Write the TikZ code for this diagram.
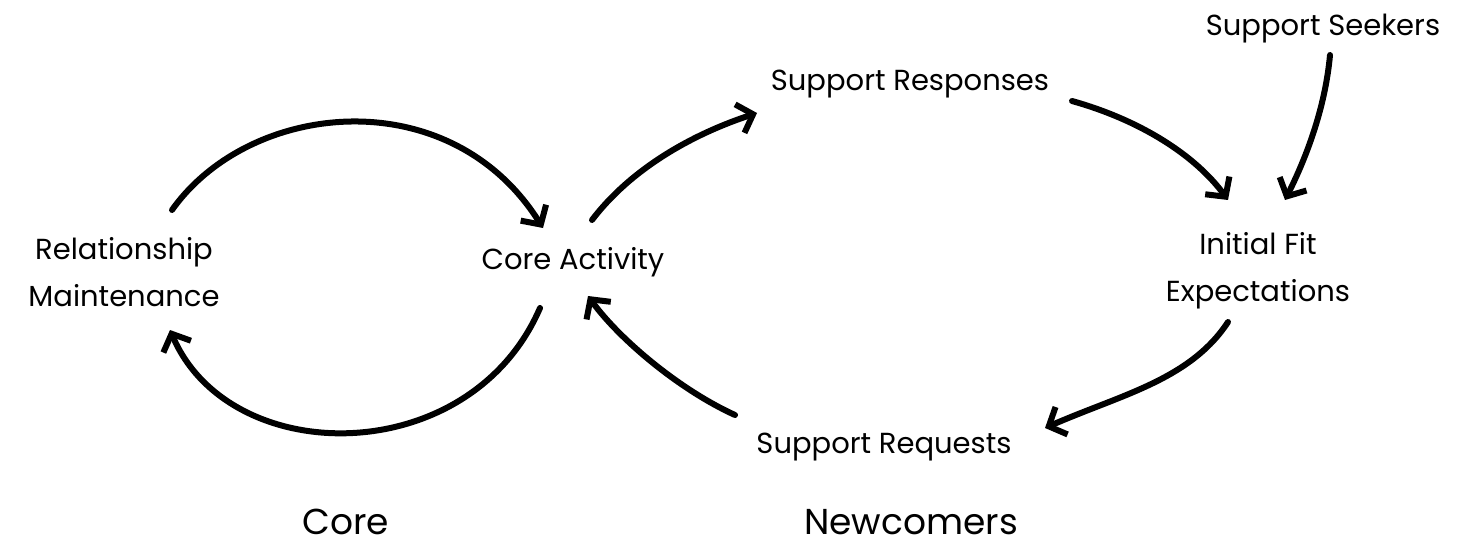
\documentclass[tikz,border=0pt]{standalone}
\usepackage{fontspec}
\setmainfont{Poppins}
\usetikzlibrary{arrows.meta}
\begin{document}
\begin{tikzpicture}[x=1pt,y=-1pt,
  lbl/.style={font=\fontsize{29}{47}\selectfont, align=center, inner sep=0pt},
  big/.style={font=\fontsize{36}{40}\selectfont, inner sep=0pt},
  arr/.style={line width=6pt, line cap=round, line join=round,
    -{Straight Barb[length=14pt,width=30pt,line width=6pt]}}]
\useasboundingbox (0,0) rectangle (1483,548);
\node[lbl] (rm) at (124,272) {Relationship\\Maintenance};
\node[lbl] (ca) at (573,262) {Core Activity};
\node[lbl] (sr) at (910,84) {Support Responses};
\node[lbl] (ss) at (1323,29) {Support Seekers};
\node[lbl] (ife) at (1258,271) {Initial Fit\\Expectations};
\node[lbl] (rq) at (884,447) {Support Requests};
\node[big] (core) at (346,522) {Core};
\node[big] (nc) at (911,522) {Newcomers};
% Core loop
\draw[arr] ([shift={(48,-62)}]rm.center) .. controls (250,100) and (450,80) .. ([shift={(-30,-34)}]ca.center);
\draw[arr] ([shift={(-33,46)}]ca.center) .. controls (470,470) and (230,470) .. ([shift={(46,58)}]rm.center);
% Newcomer loop
\draw[arr] ([shift={(19,-42)}]ca.center) .. controls (630,170) and (690,135) .. ([shift={(-153,29)}]sr.center);
\draw[arr] ([shift={(162,17)}]sr.center) .. controls (1140,120) and (1195,155) .. ([shift={(-30,-71)}]ife.center);
\draw[arr] ([shift={(7,26)}]ss.center) .. controls (1325,110) and (1305,160) .. ([shift={(27,-71)}]ife.center);
\draw[arr] ([shift={(-30,51)}]ife.center) .. controls (1190,380) and (1120,395) .. ([shift={(161,-19)}]rq.center);
\draw[arr] ([shift={(-149,-32)}]rq.center) .. controls (680,390) and (620,340) .. ([shift={(15,34)}]ca.center);
\end{tikzpicture}
\end{document}
